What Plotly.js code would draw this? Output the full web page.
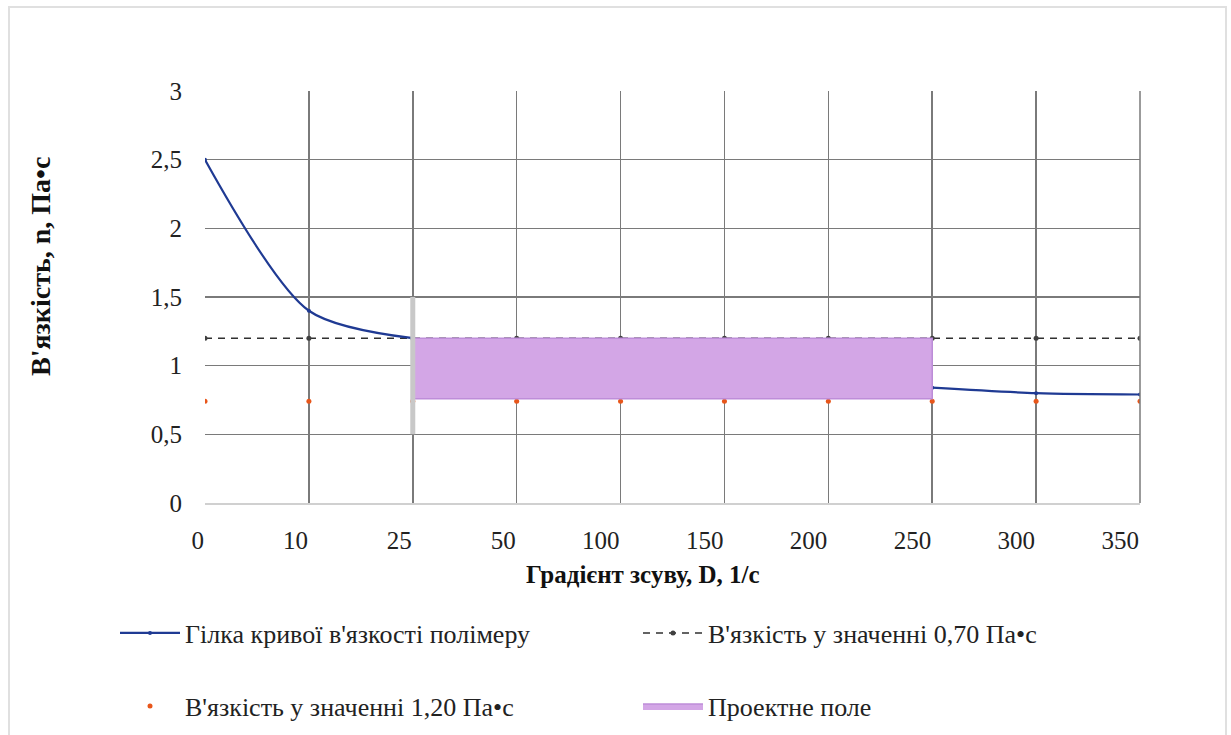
<!DOCTYPE html>
<html>
<head>
<meta charset="utf-8">
<script src="https://cdn.plot.ly/plotly-3.0.1.min.js"></script>
<style>
  html, body { margin: 0; padding: 0; background: #ffffff; }
  #frame { position: absolute; left: 8px; top: 6px; width: 1219px; height: 740px; border: 2px solid #e0e0e0; box-sizing: border-box; }
  #chart { position: absolute; left: 0; top: 0; width: 1231px; height: 735px; }
</style>
</head>
<body>
<div id="frame"></div>
<div id="chart"></div>
<script>
// Categories (shear rate, 1/s)
const categories = ['0', '10', '25', '50', '100', '150', '200', '250', '300', '350'];
// Polymer viscosity curve branch (gap where hidden by design field)
const curveValues = [2.5, 1.4, 1.2, null, null, null, null, 0.84, 0.80, 0.79];
// Reference line (label says 0,70 Па•с)
const dashedValues = [1.2, 1.2, 1.2, 1.2, 1.2, 1.2, 1.2, 1.2, 1.2, 1.2];
// Orange points (label says 1,20 Па•с)
const dotValues = [0.74, 0.74, 0.74, 0.74, 0.74, 0.74, 0.74, 0.74, 0.74, 0.74];
// Design field
const fieldStart = '25';
const fieldEnd = '250';
const fieldLow = 0.76;
const fieldHigh = 1.2;
// Grey marker bar at design field start
const barLow = 0.5;
const barHigh = 1.5;

const names = {
  curve: "Гілка кривої в'язкості полімеру",
  dashed: "В'язкість у значенні 0,70 Па•с",
  dots: "В'язкість у значенні 1,20 Па•с",
  field: "Проектне поле"
};

const serif = 'Liberation Serif, Times New Roman, serif';

const traces = [
  {
    x: categories, y: dashedValues, name: names.dashed, type: 'scatter', mode: 'lines+markers',
    line: { color: '#303030', width: 1.5, dash: '7px,6px' },
    marker: { color: '#404040', size: 5, symbol: 'circle' },
    legend: 'legend', legendrank: 2
  },
  {
    x: categories, y: dotValues, name: names.dots, type: 'scatter', mode: 'markers',
    marker: { color: '#E8561A', size: 5 },
    legend: 'legend2', legendrank: 1
  },
  {
    x: categories, y: curveValues, name: names.curve, type: 'scatter', mode: 'lines+markers',
    line: { color: '#1F3A93', width: 2.2, shape: 'spline', smoothing: 0.8 },
    marker: { color: '#1F3A93', size: 4 },
    connectgaps: false,
    legend: 'legend', legendrank: 1
  },
  {
    x: [fieldStart, fieldEnd, fieldEnd, fieldStart, fieldStart],
    y: [fieldLow, fieldLow, fieldHigh, fieldHigh, fieldLow],
    name: names.field, type: 'scatter', mode: 'lines', fill: 'toself',
    fillcolor: '#D3A6E6', line: { color: '#BE8DD9', width: 1.5 },
    legend: 'legend2', legendrank: 2
  },
  {
    x: [fieldStart, fieldStart], y: [barLow, barHigh], type: 'scatter', mode: 'lines',
    line: { color: '#C8C8C8', width: 5 }, showlegend: false, hoverinfo: 'skip'
  }
];

const legendCommon = {
  orientation: 'h', xanchor: 'left', yanchor: 'middle',
  itemwidth: 60, entrywidth: 448, entrywidthmode: 'pixels',
  font: { family: serif, size: 26, color: '#222222' }, bgcolor: 'rgba(0,0,0,0)'
};

const layout = {
  width: 1231, height: 735,
  margin: { l: 205, r: 91, t: 91, b: 232, autoexpand: false },
  paper_bgcolor: 'rgba(0,0,0,0)',
  plot_bgcolor: '#ffffff',
  separators: ', ',
  font: { family: serif, color: '#222222', size: 25 },
  showlegend: true,
  xaxis: {
    type: 'category', range: [0, 9],
    showgrid: true, gridcolor: '#7a7a7a', gridwidth: 1.5,
    showline: true, linecolor: '#d0d0d0', linewidth: 2,
    zeroline: false, ticks: '', ticklabelstandoff: 14,
    ticklabelposition: 'outside left',
    tickfont: { family: serif, size: 25, color: '#222222' },
    fixedrange: true
  },
  yaxis: {
    range: [0, 3], dtick: 0.5, tick0: 0,
    showgrid: true, gridcolor: '#7a7a7a', gridwidth: 1.5,
    zeroline: false, showline: false, ticks: '', ticklabelstandoff: 22,
    tickfont: { family: serif, size: 25, color: '#222222' },
    fixedrange: true
  },
  shapes: [
    { type: 'line', xref: 'paper', yref: 'paper', x0: 1, x1: 1, y0: 0, y1: 1, line: { color: '#7a7a7a', width: 1.5 } }
  ],
  annotations: [
    { text: '<b>Градієнт зсуву, D, 1/с</b>', xref: 'paper', yref: 'paper', x: (643 - 205) / 935, y: (503 - 574) / 412,
      xanchor: 'center', yanchor: 'middle', showarrow: false, font: { family: serif, size: 25, color: '#111111' } },
    { text: "<b>В'язкість, n, Па•с</b>", xref: 'paper', yref: 'paper', x: (40 - 205) / 935, y: (503 - 267) / 412,
      xanchor: 'center', yanchor: 'middle', textangle: -90, showarrow: false, font: { family: serif, size: 28, color: '#111111' } }
  ],
  legend: Object.assign({}, legendCommon, { x: (115 - 205) / 935, y: (503 - 633) / 412 }),
  legend2: Object.assign({}, legendCommon, { x: (115 - 205) / 935, y: (503 - 706) / 412 })
};

Plotly.newPlot('chart', traces, layout, { displayModeBar: false, staticPlot: true });
</script>
</body>
</html>
